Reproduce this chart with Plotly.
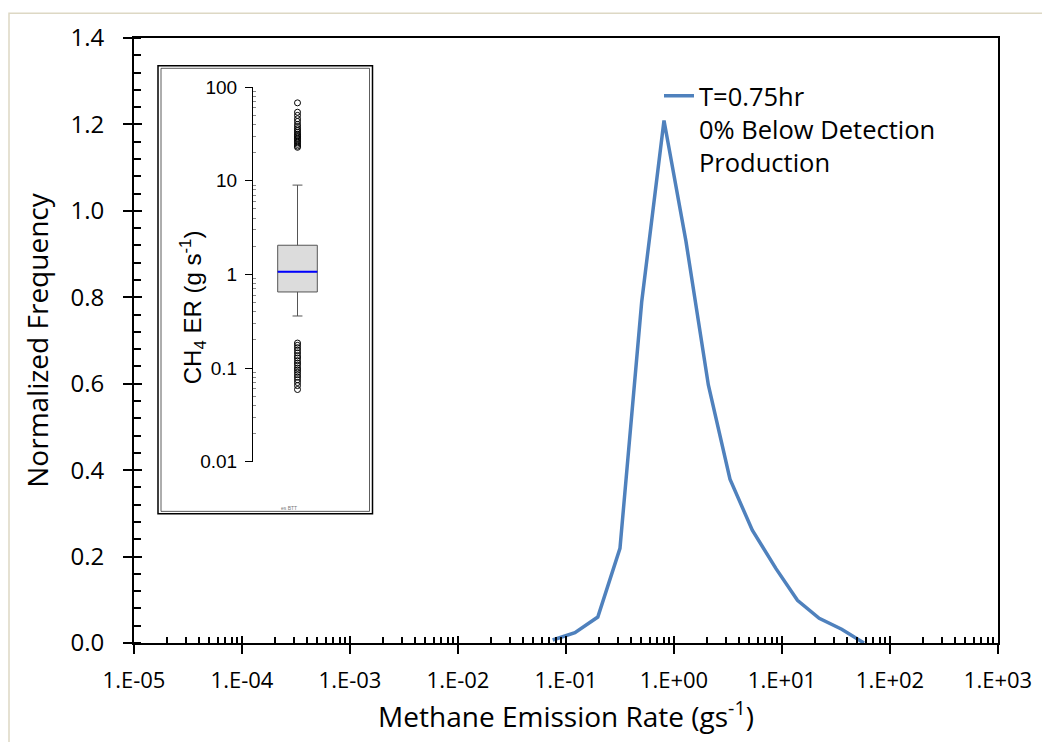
import plotly.graph_objects as go

# main curve: normalized frequency vs methane emission rate (g/s)
emission_rate = [0.0753, 0.121, 0.197, 0.316, 0.502, 0.808, 1.29, 2.08,
                 3.30, 5.31, 8.80, 13.9, 22.1, 35.7, 57.4]
norm_freq = [0.007, 0.024, 0.060, 0.219, 0.789, 1.209, 0.930, 0.597,
             0.379, 0.261, 0.172, 0.099, 0.057, 0.032, 0.0]
series_name = "T=0.75hr<br>0% Below Detection<br>Production"

x_tickvals = [1e-5, 1e-4, 1e-3, 1e-2, 1e-1, 1e0, 1e1, 1e2, 1e3]
x_ticktext = ["1.E-05", "1.E-04", "1.E-03", "1.E-02", "1.E-01",
              "1.E+00", "1.E+01", "1.E+02", "1.E+03"]

# inset boxplot (CH4 ER, g/s)
box_q1 = 0.65
box_median = 1.07
box_q3 = 2.05
box_low = 0.36
box_high = 9.0
outliers_high = [22.8, 23.5, 24.5, 25.5, 26.5, 27.5, 28.5, 29.5, 30.5, 31.5,
                 33, 34.5, 36, 38, 40, 43, 46, 50, 54, 68]
outliers_low = [0.185, 0.175, 0.165, 0.155, 0.145, 0.135, 0.128, 0.12, 0.113,
                0.107, 0.1, 0.095, 0.09, 0.085, 0.08, 0.075, 0.07, 0.065, 0.059]
inset_tickvals = [0.01, 0.1, 1, 10, 100]
inset_ticktext = ["0.01", "0.1", "1", "10", "100"]

# the page has an 8px body margin, so the plot box is placed with that in mind
W, H = 1050, 742
OFF = 8
X0, X1, Y0, Y1 = 134, 998, 34, 643   # plot area as seen on the page
L, T = X0 - OFF, Y0 - OFF
R, B = W - (X1 - OFF), H - (Y1 - OFF)
PW, PH = X1 - X0, Y1 - Y0


def px(x):  # page pixel -> paper x
    return (x - X0) / PW


def py(y):  # page pixel -> paper y
    return (Y1 - y) / PH


FONT = "Open Sans"
box_pos = 1
box_w = 0.89

fig = go.Figure()
fig.add_trace(go.Scatter(x=emission_rate, y=norm_freq, mode="lines",
                         name=series_name,
                         line=dict(color="#4F81BD", width=3.5)))

fig.add_trace(go.Box(x=[box_pos], q1=[box_q1], median=[box_median], q3=[box_q3],
                     lowerfence=[box_low], upperfence=[box_high],
                     width=box_w, whiskerwidth=0.25, boxpoints=False,
                     fillcolor="#dcdcdc", line=dict(color="#555555", width=1),
                     xaxis="x2", yaxis="y2", showlegend=False, hoverinfo="skip"))
fig.add_trace(go.Scatter(x=[box_pos - box_w / 2, box_pos + box_w / 2],
                         y=[box_median, box_median], mode="lines",
                         line=dict(color="#0000ff", width=2),
                         xaxis="x2", yaxis="y2", showlegend=False))
outs = outliers_high + outliers_low
fig.add_trace(go.Scatter(x=[box_pos] * len(outs), y=outs, mode="markers",
                         marker=dict(symbol="circle-open", size=6, color="black",
                                     line=dict(width=1)),
                         xaxis="x2", yaxis="y2", showlegend=False))

minor_log = [d * k for d in x_tickvals[:-1] for k in range(2, 10)]
inset_minor = [d * k for d in inset_tickvals[:-1] for k in range(2, 10)]

fig.update_layout(
    width=W, height=H,
    margin=dict(l=L, r=R, t=T, b=B),
    paper_bgcolor="white", plot_bgcolor="white",
    font=dict(family=FONT, color="black"),
    xaxis=dict(type="log", range=[-5, 3], tickvals=x_tickvals, ticktext=x_ticktext,
               tickfont=dict(family=FONT, size=22, color="black"),
               ticks="outside", ticklen=9, tickwidth=1.5,
               tickcolor="black", showline=True, linecolor="black", linewidth=2,
               mirror=True, showgrid=False, zeroline=False, ticklabelstandoff=8,
               minor=dict(tickmode="array", tickvals=minor_log, ticks="inside",
                          ticklen=6, tickwidth=1.5, tickcolor="black", showgrid=False),
               title=dict(text="Methane Emission Rate (gs<sup>-1</sup>)",
                          font=dict(family=FONT, size=28), standoff=10)),
    yaxis=dict(range=[0, 1.4], dtick=0.2, tickformat=".1f",
               tickfont=dict(family=FONT, size=24, color="black"),
               ticks="outside", ticklen=9, tickwidth=1.5, tickcolor="black",
               showline=True, linecolor="black", linewidth=2, mirror=True,
               showgrid=False, zeroline=False, ticklabelstandoff=14,
               minor=dict(dtick=0.04, ticks="inside", ticklen=7, tickwidth=1.5,
                          tickcolor="black", showgrid=False),
               title=dict(text="Normalized Frequency",
                          font=dict(family=FONT, size=28), standoff=14)),
    # overlays so that major ticks cross the axis lines
    xaxis3=dict(type="log", range=[-5, 3], tickvals=x_tickvals, ticks="inside",
                ticklen=7, tickwidth=1.5, tickcolor="black", showticklabels=False,
                overlaying="x", anchor="y", showgrid=False, zeroline=False),
    yaxis3=dict(range=[0, 1.4], dtick=0.2, ticks="inside", ticklen=8, tickwidth=1.5,
                tickcolor="black", showticklabels=False, overlaying="y", anchor="x",
                showgrid=False, zeroline=False),
    xaxis2=dict(domain=[px(253), px(342)], range=[0, 2], visible=False,
                anchor="y2", fixedrange=True),
    yaxis2=dict(domain=[py(460.5), py(83.5)], type="log", range=[-2, 2],
                anchor="x2", tickvals=inset_tickvals, ticktext=inset_ticktext,
                tickfont=dict(family="Liberation Sans", size=19, color="black"),
                ticks="outside", ticklen=7, tickcolor="black", tickwidth=1,
                showline=True, linecolor="black", linewidth=1, showgrid=False,
                zeroline=False, ticklabelstandoff=4,
                minor=dict(tickmode="array", tickvals=inset_minor, ticks="inside",
                           ticklen=3, tickwidth=1, tickcolor="#888888", showgrid=False)),
    legend=dict(x=px(659), y=py(69), xanchor="left", yanchor="top",
                valign="top", bgcolor="rgba(0,0,0,0)",
                font=dict(family=FONT, size=25.5, color="black"),
                tracegroupgap=0),
    showlegend=True,
)

# dummy traces so the overlay axes get drawn
fig.add_trace(go.Scatter(x=[1e-5], y=[0], xaxis="x3", yaxis="y", mode="markers",
                         marker=dict(opacity=0), showlegend=False, hoverinfo="skip"))
fig.add_trace(go.Scatter(x=[1e-5], y=[0], xaxis="x", yaxis="y3", mode="markers",
                         marker=dict(opacity=0), showlegend=False, hoverinfo="skip"))

# inset frame (double border) and outer picture border
fig.add_shape(type="rect", xref="paper", yref="paper", layer="below",
              x0=px(158), x1=px(372.5), y0=py(513), y1=py(62),
              line=dict(color="black", width=1.5), fillcolor="white")
fig.add_shape(type="rect", xref="paper", yref="paper",
              x0=px(161), x1=px(369.5), y0=py(510.5), y1=py(64.5),
              line=dict(color="#333333", width=0.8))
fig.add_shape(type="rect", xref="paper", yref="paper",
              x0=px(9), x1=px(1070), y0=py(770), y1=py(9),
              line=dict(color="#ddd8c4", width=1.5))

fig.add_annotation(text="CH<sub>4</sub> ER (g s<sup>-1</sup>)", xref="paper", yref="paper",
                   x=px(193), y=py(305), xanchor="center", yanchor="middle",
                   showarrow=False, textangle=-90,
                   font=dict(family="Liberation Sans", size=24, color="black"))
fig.add_annotation(text="es BTT", xref="paper", yref="paper",
                   x=px(289), y=py(507), xanchor="center", yanchor="middle",
                   showarrow=False,
                   font=dict(family="Liberation Sans", size=5, color="#777777"))

fig.write_html("out.html")
